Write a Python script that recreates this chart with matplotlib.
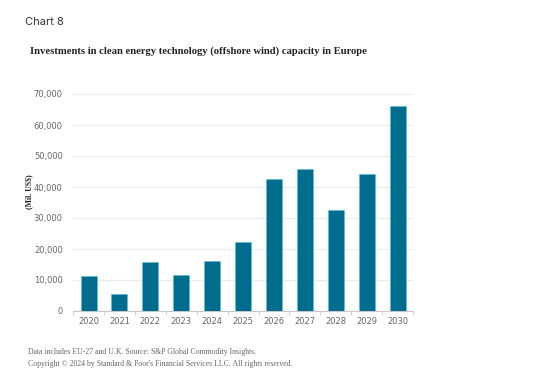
import matplotlib
matplotlib.use("Agg")
import matplotlib.pyplot as plt
from matplotlib.ticker import FuncFormatter, MultipleLocator

years = ["2020", "2021", "2022", "2023", "2024", "2025", "2026", "2027", "2028", "2029", "2030"]
values = [11300, 5500, 15700, 11600, 16000, 22200, 42500, 45900, 32500, 44300, 66100]

title = "Chart 8"
subtitle = "Investments in clean energy technology (offshore wind) capacity in Europe"
ylabel = "(Mil. US$)"
note1 = "Data includes EU-27 and U.K. Source: S&P Global Commodity Insights."
note2 = "Copyright \u00a9 2024 by Standard & Poor's Financial Services LLC. All rights reserved."

fig = plt.figure(figsize=(5.6, 3.82), dpi=100)
ax = fig.add_axes([72.5/560, 1-311/382, (413-72.5)/560, (311-94)/382])

x = list(range(len(years)))
ax.bar(x, values, width=0.52, color="#006D8E", edgecolor="#4FC3DD", linewidth=0.4, zorder=3)

ax.set_xlim(-0.52, 10.5)
ax.set_ylim(0, 70000)
ax.yaxis.set_major_locator(MultipleLocator(10000))
ax.yaxis.set_major_formatter(FuncFormatter(lambda v, p: f"{int(v):,}"))
ax.set_xticks(x)
ax.set_xticklabels(years)
ax.set_xticks([i + 0.5 for i in range(-1, 11)], minor=True)

ax.grid(axis="y", color="#EBEBEB", linewidth=0.8, zorder=0)
for s in ["top", "right", "left"]:
    ax.spines[s].set_visible(False)
ax.spines["bottom"].set_color("#C8C8C8")
ax.spines["bottom"].set_linewidth(0.8)
ax.tick_params(axis="y", length=0, labelsize=6, labelcolor="#666666", pad=7)
ax.tick_params(axis="x", which="major", length=0, labelsize=6, labelcolor="#666666", pad=4)
ax.tick_params(axis="x", which="minor", length=3, color="#C8C8C8", width=0.6)

fig.text(25/560, 1-22/382, title, fontsize=8, family="Inter", color="#333333", va="center", ha="left")
fig.text(30/560, 1-51/382, subtitle, fontsize=7.7, family="Liberation Serif", weight="bold",
         color="#222222", va="center", ha="left")
fig.text(29/560, 1-192/382, ylabel, fontsize=5.6, family="Liberation Serif", weight="bold",
         color="#222222", rotation=90, va="center", ha="center")
fig.text(28/560, 1-352/382, note1, fontsize=5.55, family="Liberation Serif", color="#666666", va="center", ha="left")
fig.text(28/560, 1-364/382, note2, fontsize=5.55, family="Liberation Serif", color="#666666", va="center", ha="left")

fig.savefig("out.png", dpi=100, facecolor="white")
